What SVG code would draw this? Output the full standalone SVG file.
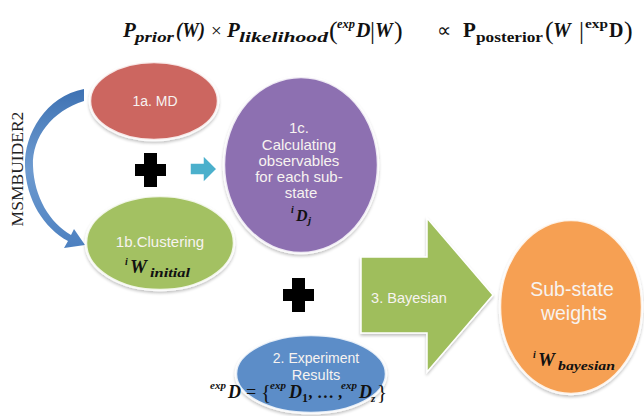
<svg xmlns="http://www.w3.org/2000/svg" width="644" height="416" viewBox="0 0 644 416">
<defs>
<style>
.node{stroke:#ffffff;stroke-width:2.5;stroke-opacity:0.85}
.lbl{font-family:"Liberation Sans",Arial,sans-serif;fill:#F7F3F0;text-anchor:middle}
.m{font-family:"Liberation Serif","Times New Roman",serif;font-weight:bold;font-style:italic;fill:#111}
.mu{font-family:"Liberation Serif","Times New Roman",serif;font-weight:bold;fill:#111}
.n{font-family:"Liberation Serif","Times New Roman",serif;font-weight:normal;fill:#111}
.plus{fill:#000}
</style>
<linearGradient id="curveGrad" x1="0" y1="0" x2="0" y2="1">
<stop offset="0" stop-color="#3E72B3"/>
<stop offset="0.5" stop-color="#6E9BD0"/>
<stop offset="1" stop-color="#4C80C0"/>
</linearGradient>
<filter id="sh" x="-10%" y="-10%" width="120%" height="120%">
<feGaussianBlur in="SourceAlpha" stdDeviation="1.5"/>
<feOffset dx="0" dy="1.5" result="b"/>
<feComponentTransfer><feFuncA type="linear" slope="0.25"/></feComponentTransfer>
<feMerge><feMergeNode/><feMergeNode in="SourceGraphic"/></feMerge>
</filter>
</defs>
<rect width="644" height="416" fill="#ffffff"/>

<!-- title formula -->
<g id="title">
<text class="m" x="123" y="37" font-size="21">P</text>
<text class="m" x="135" y="42" font-size="15" textLength="39" lengthAdjust="spacingAndGlyphs">prior</text>
<text class="m" x="176" y="37" font-size="20" textLength="29" lengthAdjust="spacingAndGlyphs">(W)</text>
<text class="n" x="211" y="37" font-size="19">×</text>
<text class="m" x="227" y="37" font-size="21">P</text>
<text class="m" x="239" y="42" font-size="15" textLength="89" lengthAdjust="spacingAndGlyphs">likelihood</text>
<text class="n" x="329" y="39" font-size="26">(</text>
<text class="m" x="337" y="28" font-size="13" textLength="18" lengthAdjust="spacingAndGlyphs">exp</text>
<text class="m" x="356" y="37" font-size="20">D</text>
<text class="n" x="370" y="39" font-size="25">|</text>
<text class="m" x="375" y="37" font-size="20">W</text>
<text class="n" x="394" y="39" font-size="26">)</text>
<text class="n" x="437" y="37" font-size="20">∝</text>
<text class="mu" x="463" y="37" font-size="21">P</text>
<text class="mu" x="476" y="42" font-size="15" textLength="67" lengthAdjust="spacingAndGlyphs">posterior</text>
<text class="n" x="545" y="39" font-size="26">(</text>
<text class="m" x="553" y="37" font-size="20">W</text>
<text class="n" x="579" y="39" font-size="25">|</text>
<text class="mu" x="585" y="28" font-size="13" textLength="23" lengthAdjust="spacingAndGlyphs">exp</text>
<text class="mu" x="609" y="37" font-size="20">D</text>
<text class="n" x="624" y="39" font-size="26">)</text>
</g>

<!-- connectors -->
<g id="connectors">
<path d="M 84,89 C 46,96 24,134 25,166 C 26,200 44,228 68,241 L 64,248 L 85,245 L 74,229 L 71,235 C 50,223 34,197 33,166 C 32,137 52,111 84,101 Z" fill="url(#curveGrad)"/>
<path d="M 190,163 L 203,163 L 203,155 L 217,169 L 203,183 L 203,175 L 190,175 Z" fill="#4BB0CC" stroke="#ffffff" stroke-width="1.5"/>
<path d="M 361,257 L 427,257 L 427,218 L 493,295 L 427,372 L 427,333 L 361,333 Z" fill="#9FBE5C" stroke="#ffffff" stroke-width="1.5" filter="url(#sh)"/>
<text class="lbl" x="409" y="303" font-size="14.5">3. Bayesian</text>
<path class="plus" d="M 144,153 h 13 v 11 h 9 v 12 h -9 v 11 h -13 v -11 h -9 v -12 h 9 Z"/>
<path class="plus" d="M 292,278 h 13 v 11 h 9 v 12 h -9 v 11 h -13 v -11 h -9 v -12 h 9 Z"/>
</g>

<text x="0" y="0" transform="translate(23,169) rotate(-90)" font-family="Liberation Serif,'Times New Roman',serif" font-size="17.5" fill="#222" text-anchor="middle">MSMBUIDER2</text>

<g id="n1a">
<ellipse class="node" cx="154" cy="101" rx="64" ry="39" fill="#CC6660" filter="url(#sh)"/>
<text class="lbl" x="155" y="106" font-size="14">1a. MD</text>
</g>

<g id="n1b">
<ellipse class="node" cx="160" cy="243" rx="74" ry="47" fill="#A3C162" filter="url(#sh)"/>
<text class="lbl" x="160" y="247" font-size="15">1b.Clustering</text>
<text class="m" x="125" y="265" font-size="10">i</text>
<text class="m" x="130" y="273" font-size="19">W</text>
<text class="m" x="150" y="277" font-size="13" textLength="40" lengthAdjust="spacingAndGlyphs">initial</text>
</g>

<g id="n1c">
<ellipse class="node" cx="301" cy="165" rx="77" ry="88" fill="#8D6FB1" filter="url(#sh)"/>
<text class="lbl" font-size="15">
<tspan x="301" y="133">1c.</tspan>
<tspan x="301" y="150">Calculating</tspan>
<tspan x="301" y="166">observables</tspan>
<tspan x="301" y="182">for each sub-</tspan>
<tspan x="301" y="198">state</tspan>
</text>
<text class="m" x="291" y="213" font-size="10">i</text>
<text class="m" x="296" y="221" font-size="16">D</text>
<text class="m" x="308" y="224" font-size="11">j</text>
</g>

<g id="n2">
<ellipse class="node" cx="311" cy="374" rx="75" ry="39" fill="#5B8DC8" filter="url(#sh)"/>
<text class="lbl" x="316" y="363" font-size="14">2. Experiment</text>
<text class="lbl" x="316" y="380" font-size="14.5">Results</text>
<text class="m" x="210" y="389" font-size="11">exp</text>
<text class="m" x="228" y="398" font-size="18">D</text>
<text class="n" x="246" y="398" font-size="18">=</text>
<text class="n" x="261" y="399" font-size="21">{</text>
<text class="m" x="270" y="389" font-size="11">exp</text>
<text class="m" x="289" y="398" font-size="18">D</text>
<text class="mu" x="302" y="402" font-size="12">1</text>
<text class="m" x="309" y="398" font-size="17">, … ,</text>
<text class="m" x="341" y="389" font-size="11">exp</text>
<text class="m" x="359" y="398" font-size="18">D</text>
<text class="m" x="371" y="402" font-size="11">z</text>
<text class="n" x="377" y="399" font-size="21">}</text>
</g>

<g id="n4">
<ellipse class="node" cx="571" cy="307" rx="71" ry="87" fill="#F6A052" filter="url(#sh)"/>
<text class="lbl" x="572" y="296" font-size="19.5">Sub-state</text>
<text class="lbl" x="574" y="320" font-size="19.5">weights</text>
<text class="m" x="533" y="358" font-size="10">i</text>
<text class="m" x="538" y="366" font-size="19">W</text>
<text class="m" x="558" y="370" font-size="13" textLength="57" lengthAdjust="spacingAndGlyphs">bayesian</text>
</g>
</svg>
